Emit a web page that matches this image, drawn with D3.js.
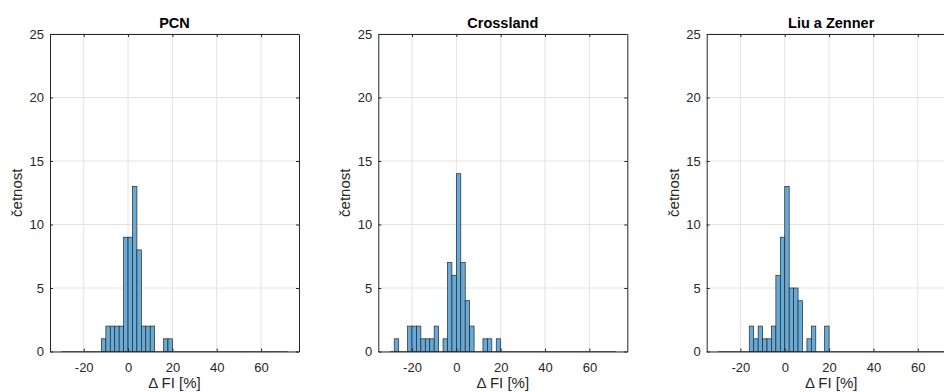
<!DOCTYPE html>
<html>
<head>
<meta charset="utf-8">
<script src="https://cdn.jsdelivr.net/npm/d3@7"></script>
<style>
  html, body { margin: 0; padding: 0; background: #fff; overflow: hidden; }
  svg { display: block; font-family: "Liberation Sans", Arial, Helvetica, sans-serif; }
</style>
</head>
<body>
<svg id="chart" width="944" height="392"></svg>
<script>
// Histogram bins: left edges from -30 in steps of 2 (51 bins, up to 72)
const binStart = -30;
const binWidth = 2;

const titles = ["PCN", "Crossland", "Liu a Zenner"];

// Counts per bin, index i covers [binStart + i*binWidth, binStart + (i+1)*binWidth)
const countsPCN = [
  0, 0, 0, 0, 0, 0, 0, 0, 0, 1,
  2, 2, 2, 2, 9, 9, 13, 8, 2, 2,
  2, 0, 0, 1, 1, 0, 0, 0, 0, 0,
  0, 0, 0, 0, 0, 0, 0, 0, 0, 0,
  0, 0, 0, 0, 0, 0, 0, 0, 0, 0,
  0
];
const countsCrossland = [
  0, 1, 0, 0, 2, 2, 2, 1, 1, 1,
  2, 0, 1, 7, 6, 14, 7, 4, 2, 0,
  0, 1, 1, 0, 1, 0, 0, 0, 0, 0,
  0, 0, 0, 0, 0, 0, 0, 0, 0, 0,
  0, 0, 0, 0, 0, 0, 0, 0, 0, 0,
  0
];
const countsLiuZenner = [
  0, 0, 0, 0, 0, 0, 0, 2, 1, 2,
  1, 1, 2, 6, 9, 13, 5, 5, 4, 0,
  1, 2, 0, 0, 2, 0, 0, 0, 0, 0,
  0, 0, 0, 0, 0, 0, 0, 0, 0, 0,
  0, 0, 0, 0, 0, 0, 0, 0, 0, 0,
  0
];
const seriesCounts = [countsPCN, countsCrossland, countsLiuZenner];

const xTicks = [-20, 0, 20, 40, 60];
const yTicks = [0, 5, 10, 15, 20, 25];
const xLabel = "Δ FI [%]";
const yLabel = "četnost";

// Layout
const panelLeft = [50, 378.3, 706.7];
const panelWidth = 249;
const plotTop = 34, plotBottom = 351.5;
const xDomain = [-35.2, 77.1];
const yDomain = [0, 25];

const axisColor = "#262626";
const gridColor = "#e2e2e2";
const faceColor = "#66aad7";
const edgeColor = "#262626";

const svg = d3.select("#chart");
const plainNumber = d => String(d);

seriesCounts.forEach((counts, p) => {
  const x0 = panelLeft[p];
  const x = d3.scaleLinear().domain(xDomain).range([x0, x0 + panelWidth]);
  const y = d3.scaleLinear().domain(yDomain).range([plotBottom, plotTop]);
  const g = svg.append("g");

  // grid
  g.selectAll(".gx").data(xTicks).enter().append("line")
    .attr("x1", d => x(d)).attr("x2", d => x(d))
    .attr("y1", plotTop).attr("y2", plotBottom)
    .attr("stroke", gridColor).attr("stroke-width", 1);
  g.selectAll(".gy").data(yTicks).enter().append("line")
    .attr("x1", x0).attr("x2", x0 + panelWidth)
    .attr("y1", d => y(d)).attr("y2", d => y(d))
    .attr("stroke", gridColor).attr("stroke-width", 1);

  // bins
  const bins = counts.map((c, i) => ({
    x0: binStart + i * binWidth,
    x1: binStart + (i + 1) * binWidth,
    c: c
  }));

  // zero-height bins show as a line along the baseline
  g.append("line")
    .attr("x1", x(bins[0].x0)).attr("x2", x(bins[bins.length - 1].x1))
    .attr("y1", y(0)).attr("y2", y(0))
    .attr("stroke", "#6b6b6b").attr("stroke-width", 1);

  g.selectAll(".bar").data(bins.filter(b => b.c > 0)).enter().append("rect")
    .attr("x", d => x(d.x0))
    .attr("width", d => x(d.x1) - x(d.x0))
    .attr("y", d => y(d.c))
    .attr("height", d => y(0) - y(d.c))
    .attr("fill", faceColor)
    .attr("stroke", edgeColor)
    .attr("stroke-width", 0.7);

  // axes (box with inward ticks on all four sides)
  const xAxis = d3.axisBottom(x).tickValues(xTicks).tickFormat(plainNumber)
    .tickSizeInner(-3).tickSizeOuter(0).tickPadding(11);
  const yAxis = d3.axisLeft(y).tickValues(yTicks).tickFormat(plainNumber)
    .tickSizeInner(-3).tickSizeOuter(0).tickPadding(6);
  const xTop = d3.axisTop(x).tickValues(xTicks).tickSizeInner(-3).tickSizeOuter(0).tickFormat("");
  const yRight = d3.axisRight(y).tickValues(yTicks).tickSizeInner(-3).tickSizeOuter(0).tickFormat("");

  const styleAxis = sel => {
    sel.selectAll("path, line").attr("stroke", axisColor);
    sel.select(".domain").attr("stroke-width", 1);
    sel.selectAll("text").attr("fill", axisColor).style("font-size", "13px")
      .style("font-family", "'Liberation Sans', Arial, Helvetica, sans-serif");
  };

  g.append("g").attr("transform", `translate(0,${plotBottom})`).call(xAxis).call(styleAxis);
  g.append("g").attr("transform", `translate(${x0},0)`).call(yAxis).call(styleAxis);
  g.append("g").attr("transform", `translate(0,${plotTop})`).call(xTop).call(styleAxis);
  g.append("g").attr("transform", `translate(${x0 + panelWidth},0)`).call(yRight).call(styleAxis);

  // title
  g.append("text")
    .attr("x", x0 + panelWidth / 2).attr("y", 28)
    .attr("text-anchor", "middle")
    .attr("fill", "#000")
    .style("font-size", "14.5px").style("font-weight", "bold")
    .text(titles[p]);

  // axis labels
  g.append("text")
    .attr("x", x0 + panelWidth / 2).attr("y", 388)
    .attr("text-anchor", "middle")
    .attr("fill", axisColor)
    .style("font-size", "15px")
    .text(xLabel);

  g.append("text")
    .attr("transform", `translate(${x0 - 28},${(plotTop + plotBottom) / 2}) rotate(-90)`)
    .attr("text-anchor", "middle")
    .attr("fill", axisColor)
    .style("font-size", "15px")
    .text(yLabel);
});
</script>
</body>
</html>
